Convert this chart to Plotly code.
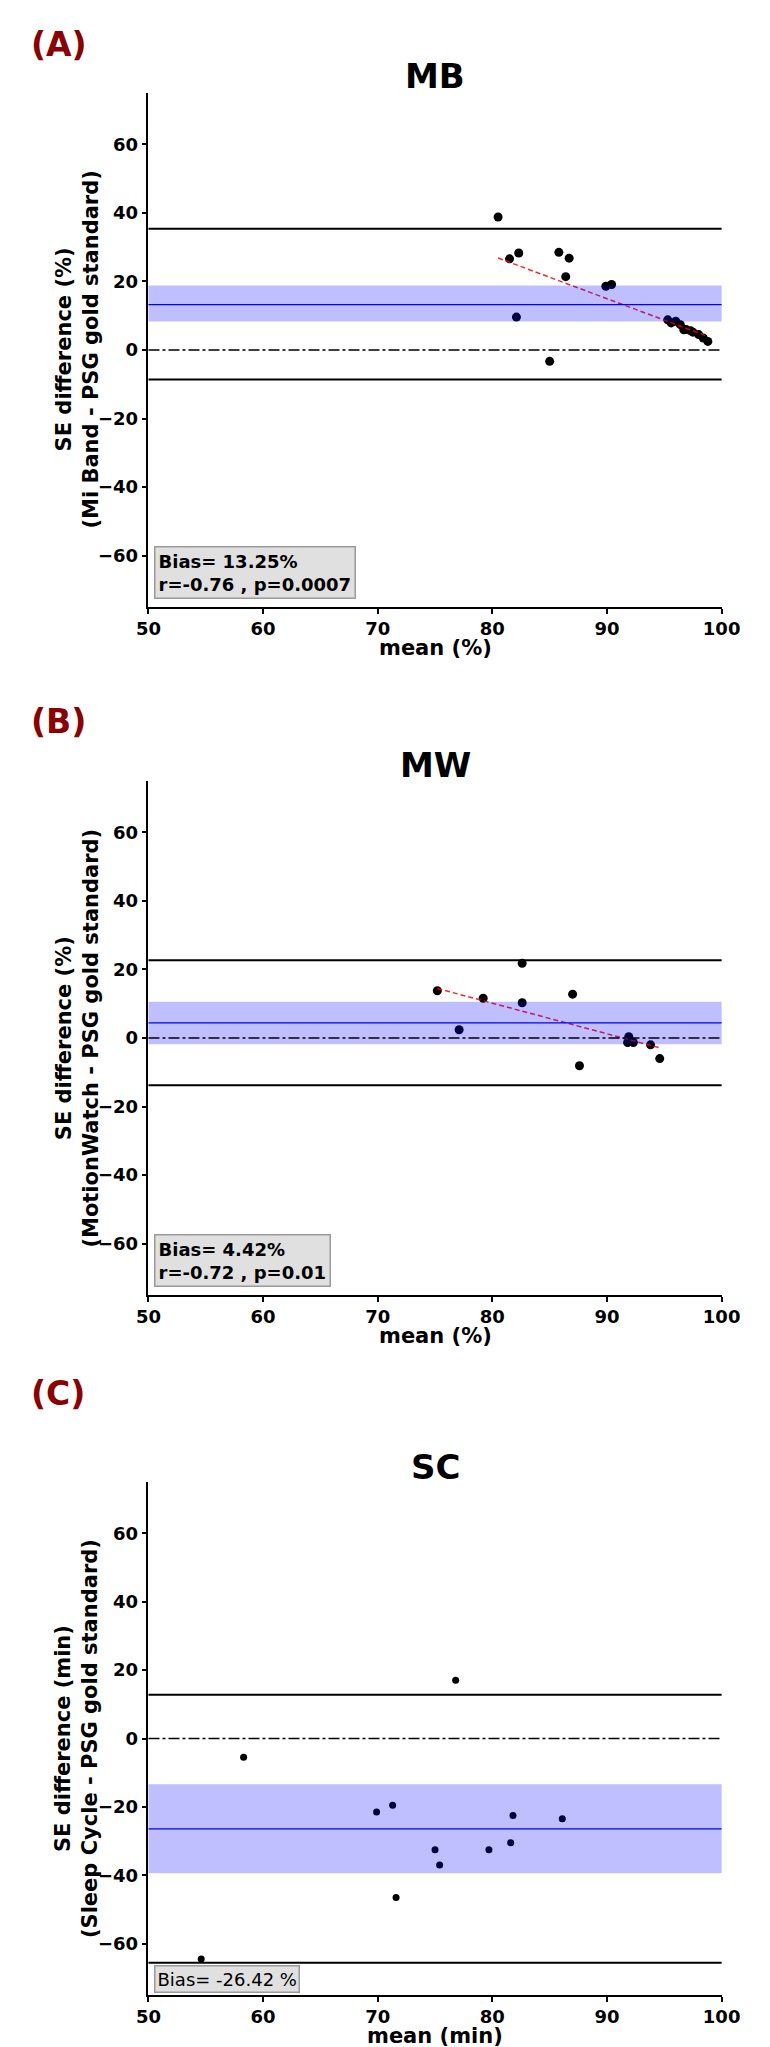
import numpy as np
import plotly.graph_objects as go

W, H = 770, 2047

# ---------------- data ----------------
mb_mean = [80.5, 81.5, 82.3, 82.1, 85.0, 85.8, 86.7, 86.4, 89.9, 90.4,
           95.3, 95.6, 96.0, 96.4, 96.7, 96.9, 97.3, 97.5, 98.0, 98.4, 98.8]
mb_diff = [38.8, 26.6, 28.3, 9.6, -3.3, 28.5, 26.8, 21.4, 18.6, 19.1,
           8.8, 7.9, 8.4, 7.4, 5.9, 6.0, 5.6, 5.2, 4.5, 3.5, 2.5]
mb_bias, mb_ci, mb_loa = 13.25, [8.3, 18.8], [-8.6, 35.4]

mw_mean = [75.2, 77.1, 79.2, 82.6, 82.6, 87.0, 87.6, 91.9, 91.8, 92.3, 93.8, 94.6]
mw_diff = [13.8, 2.4, 11.6, 21.8, 10.3, 12.8, -8.1, 0.4, -1.3, -1.3, -2.0, -6.0]
mw_bias, mw_ci, mw_loa = 4.42, [-1.8, 10.6], [-13.8, 22.7]

sc_mean = [54.6, 58.3, 69.9, 71.3, 71.6, 75.0, 75.4, 76.8, 79.7, 81.6, 81.8, 86.1]
sc_diff = [-64.5, -5.5, -21.5, -19.5, -46.5, -32.5, -37.0, 17.0, -32.5, -30.5, -22.5, -23.5]
sc_bias, sc_ci, sc_loa = -26.42, [-39.4, -13.4], [-65.6, 12.8]

x_ticks = [50, 60, 70, 80, 90, 100]
y_ticks = [-60, -40, -20, 0, 20, 40, 60]

panels = [
    dict(key="", title="MB", label="(A)", mean=mb_mean, diff=mb_diff, bias=mb_bias,
         ci=mb_ci, loa=mb_loa, fit=True,
         ytitle="SE difference (%)<br>(Mi Band - PSG gold standard)",
         xtitle="mean (%)", box="Bias= 13.25%<br>r=-0.76 , p=0.0007",
         top=85, bottom=599, title_y=68, label_y=37, msize=9, boxbold=True),
    dict(key="2", title="MW", label="(B)", mean=mw_mean, diff=mw_diff, bias=mw_bias,
         ci=mw_ci, loa=mw_loa, fit=True,
         ytitle="SE difference (%)<br>(MotionWatch - PSG gold standard)",
         xtitle="mean (%)", box="Bias= 4.42%<br>r=-0.72 , p=0.01",
         top=773, bottom=1287, title_y=757, label_y=714, msize=9, boxbold=True),
    dict(key="3", title="SC", label="(C)", mean=sc_mean, diff=sc_diff, bias=sc_bias,
         ci=sc_ci, loa=sc_loa, fit=False,
         ytitle="SE difference (min)<br>(Sleep Cycle - PSG gold standard)",
         xtitle="mean (min)", box="Bias= -26.42 %",
         top=1474, bottom=1987, title_y=1459, label_y=1385, msize=7, boxbold=False),
]

FONT = "DejaVu Sans"
fig = go.Figure()
shapes, annotations = [], []
x0p, x1p = 133 / W, 731 / W

def py(pix):
    return 1 - pix / H

for p in panels:
    k = p["key"]
    xa, ya = "x" + k, "y" + k
    fig.add_trace(go.Scatter(x=p["mean"], y=p["diff"], mode="markers",
                             marker=dict(color="black", size=p["msize"]),
                             xaxis=xa, yaxis=ya, showlegend=False))
    if p["fit"]:
        m = np.array(p["mean"]); d = np.array(p["diff"])
        s, c = np.polyfit(m, d, 1)
        xf = np.array([m.min(), m.max()])
        fig.add_trace(go.Scatter(x=xf, y=s * xf + c, mode="lines",
                                 line=dict(color="rgba(255,0,0,0.85)", width=1.5, dash="5px,3px"),
                                 xaxis=xa, yaxis=ya, showlegend=False))
    lay = dict(
        xaxis=dict(domain=[x0p, x1p], range=[50, 100], tickvals=x_ticks, ticks="outside",
                   ticklen=5, tickwidth=1.5, tickcolor="black", showline=True, linecolor="black",
                   linewidth=1.5, showgrid=False, zeroline=False, anchor=ya,
                   tickfont=dict(family=FONT, size=18, color="black", weight="bold")),
        yaxis=dict(domain=[py(p["bottom"]), py(p["top"])], range=[-75, 75], tickvals=y_ticks,
                   ticks="outside", ticklen=5, tickwidth=1.5, tickcolor="black", showline=True,
                   linecolor="black", linewidth=1.5, showgrid=False, zeroline=False, anchor=xa,
                   tickfont=dict(family=FONT, size=18, color="black", weight="bold")),
    )
    fig.update_layout(**{("xaxis" + k): lay["xaxis"], ("yaxis" + k): lay["yaxis"]})
    xd, yd = xa + " domain", ya + " domain"
    # CI band of the bias
    shapes.append(dict(type="rect", xref=xd, yref=ya, x0=0, x1=1, y0=p["ci"][0], y1=p["ci"][1],
                       fillcolor="rgba(0,0,255,0.25)", line=dict(width=0), layer="above"))
    # bias
    shapes.append(dict(type="line", xref=xd, yref=ya, x0=0, x1=1, y0=p["bias"], y1=p["bias"],
                       line=dict(color="blue", width=1.3), layer="above"))
    # limits of agreement
    for v in p["loa"]:
        shapes.append(dict(type="line", xref=xd, yref=ya, x0=0, x1=1, y0=v, y1=v,
                           line=dict(color="black", width=2), layer="above"))
    # zero
    shapes.append(dict(type="line", xref=xd, yref=ya, x0=0, x1=1, y0=0, y1=0,
                       line=dict(color="black", width=1.5, dash="11px,3px,3px,3px"), layer="above"))
    # texts
    annotations.append(dict(text=p["title"], xref="paper", yref="paper", x=(x0p + x1p) / 2,
                            y=py(p["title_y"]), xanchor="center", yanchor="middle", showarrow=False,
                            font=dict(family=FONT, size=34, color="black", weight="bold")))
    annotations.append(dict(text=p["label"], xref="paper", yref="paper", x=8 / W,
                            y=py(p["label_y"]), xanchor="left", yanchor="middle", showarrow=False,
                            font=dict(family=FONT, size=33, color="#8B0000", weight="bold")))
    annotations.append(dict(text=p["ytitle"], xref="paper", yref=yd, x=58 / W, y=0.5,
                            xanchor="center", yanchor="middle", textangle=-90, showarrow=False,
                            font=dict(family=FONT, size=21, color="black", weight="bold")))
    annotations.append(dict(text=p["xtitle"], xref=xd, yref="paper", x=0.5,
                            y=py(p["bottom"] + 41), xanchor="center", yanchor="middle",
                            showarrow=False,
                            font=dict(family=FONT, size=21, color="black", weight="bold")))
    if p["boxbold"]:
        annotations.append(dict(text=p["box"], xref=xd, yref=yd, x=0.01, y=0.016,
                                xanchor="left", yanchor="bottom", align="left", showarrow=False,
                                bgcolor="#e0e0e0", bordercolor="#9a9a9a", borderwidth=1.5,
                                borderpad=3,
                                font=dict(family=FONT, size=18, color="black", weight="bold")))
    else:
        annotations.append(dict(text=p["box"], xref=xd, yref=yd, x=0.01, y=0.003,
                                xanchor="left", yanchor="bottom", align="left", showarrow=False,
                                bgcolor="#e0e0e0", bordercolor="#9a9a9a", borderwidth=1.5,
                                borderpad=2,
                                font=dict(family=FONT, size=18, color="black")))

fig.update_layout(width=W, height=H, margin=dict(l=0, r=0, t=0, b=0),
                  paper_bgcolor="white", plot_bgcolor="white",
                  shapes=shapes, annotations=annotations, showlegend=False)
fig.write_html("out.html")
